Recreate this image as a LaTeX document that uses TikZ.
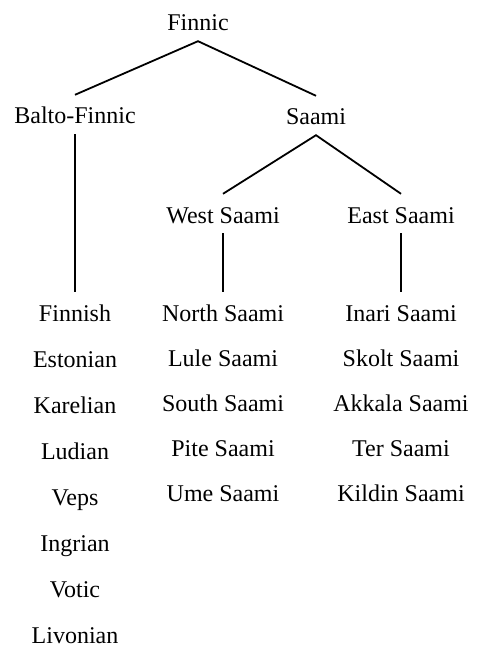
\documentclass[tikz,border=0pt]{standalone}
\usepackage{fontspec}
\setmainfont{Liberation Serif}
\begin{document}
\begin{tikzpicture}[x=1pt,y=-1pt,
  lab/.style={anchor=base,font=\fontsize{24}{28}\selectfont,text height=24pt,text depth=5pt,inner xsep=0pt,inner ysep=5pt},
  edge/.style={line width=1.8pt}]
\useasboundingbox (0,0) rectangle (476,647);
\node[lab] (finnic) at (198,31) {Finnic};
\node[lab] (balto) at (75,124) {Balto-Finnic};
\node[lab] (saami) at (316,125) {Saami};
\node[lab] (west) at (223,223) {West Saami};
\node[lab] (east) at (401,223) {East Saami};
% left column
\node[lab] (finnish) at (75,321) {Finnish};
\node[lab] (estonian) at (75,367) {Estonian};
\node[lab] (karelian) at (75,413) {Karelian};
\node[lab] (ludian) at (75,459) {Ludian};
\node[lab] (veps) at (75,505) {Veps};
\node[lab] (ingrian) at (75,551) {Ingrian};
\node[lab] (votic) at (75,597) {Votic};
\node[lab] (livonian) at (75,643) {Livonian};
% middle column
\node[lab] (north) at (223,321) {North Saami};
\node[lab] (lule) at (223,366) {Lule Saami};
\node[lab] (south) at (223,411) {South Saami};
\node[lab] (pite) at (223,456) {Pite Saami};
\node[lab] (ume) at (223,501) {Ume Saami};
% right column
\node[lab] (inari) at (401,321) {Inari Saami};
\node[lab] (skolt) at (401,366) {Skolt Saami};
\node[lab] (akkala) at (401,411) {Akkala Saami};
\node[lab] (ter) at (401,456) {Ter Saami};
\node[lab] (kildin) at (401,501) {Kildin Saami};
% connectors
\draw[edge] (balto.north) -- (finnic.south) -- (saami.north);
\draw[edge] (west.north) -- (saami.south) -- (east.north);
\draw[edge] (balto.south) -- (finnish.north);
\draw[edge] (west.south) -- (north.north);
\draw[edge] (east.south) -- (inari.north);
\end{tikzpicture}
\end{document}
